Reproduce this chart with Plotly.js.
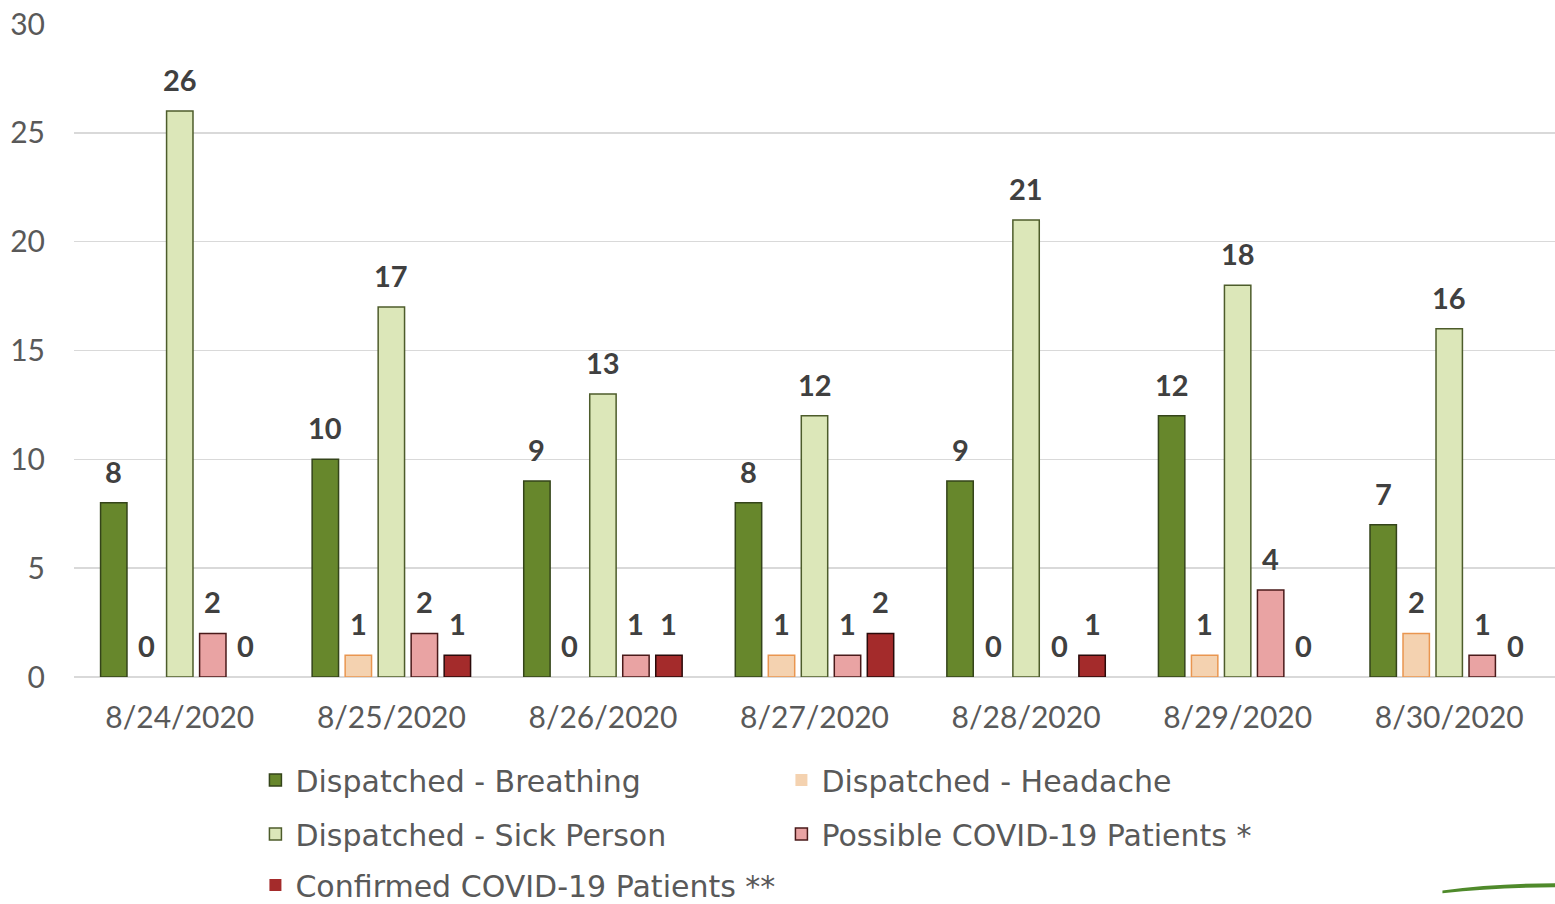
<!DOCTYPE html>
<html>
<head>
<meta charset="utf-8">
<script src="https://cdn.plot.ly/plotly-3.0.1.min.js"></script>
<style>html,body{margin:0;padding:0;background:#fff;}#chart{width:1555px;height:904px;}</style>
</head>
<body>
<div id="chart"></div>
<script>
const dates = ["8/24/2020","8/25/2020","8/26/2020","8/27/2020","8/28/2020","8/29/2020","8/30/2020"];
const breathing = [8,10,9,8,9,12,7];
const headache = [0,1,0,1,0,1,2];
const sickPerson = [26,17,13,12,21,18,16];
const possibleCovid = [2,2,1,1,0,4,1];
const confirmedCovid = [0,1,1,2,1,0,0];
const seriesNames = ["Dispatched - Breathing","Dispatched - Headache","Dispatched - Sick Person","Possible COVID-19 Patients *","Confirmed COVID-19 Patients **"];

const fills = ["#67872c","#f4d2b0","#dce7b9","#e9a3a3","#a42b2b"];
const lines = ["#34441a","#e99650","#4d5c2b","#4a1a1a","#2a0a0a"];
const legendIds = ["legend","legend","legend2","legend2","legend3"];
const data = [breathing, headache, sickPerson, possibleCovid, confirmedCovid];

const FONT = "Lato, 'Open Sans', sans-serif";
const LFONT = "'DejaVu Sans', sans-serif";
const W = 1555, H = 904, ML = 74, MR = 0, MT = 24, MB = 227;
const BARGAP = 0.22;
const nCat = dates.length, nSer = data.length;
const slot = (W - ML - MR) / nCat * (1 - BARGAP) / nSer;

const traces = data.map((vals,i)=>({
  type:'bar', x:dates, y:vals, name:seriesNames[i],
  legend: legendIds[i],
  marker:{color:fills[i], line:{color:lines[i], width:vals.map(v=>v===0?0:1.5)}},
  hoverinfo:'x+y+name'
}));

const annotations = [];
data.forEach((vals,i)=>{
  vals.forEach((v,j)=>{
    annotations.push({
      x:dates[j], y:v, xref:'x', yref:'y', text:String(v), showarrow:false,
      xanchor:'center', yanchor:'bottom',
      xshift:(i-(nSer-1)/2)*slot, yshift:12,
      font:{family:FONT, size:29, color:'#404040', weight:'bold'}
    });
  });
});

const py = (pix)=> (H - MB - pix) / (H - MB - MT);
const legendCommon = (y, anchor)=>({
  orientation:'h', x:0.1225, xanchor:'left', y:y, yanchor:anchor || 'middle',
  xref:'paper', yref:'paper',
  entrywidth:481, entrywidthmode:'pixels',
  font:{family:LFONT, size:30, color:'#595959'},
  bgcolor:'rgba(0,0,0,0)', itemwidth:30, traceorder:'normal'
});

const layout = {
  width:W, height:H,
  margin:{l:ML, r:MR, t:MT, b:MB, autoexpand:false},
  paper_bgcolor:'#fff', plot_bgcolor:'#fff',
  barmode:'group', bargap:BARGAP, bargroupgap:0.2,
  font:{family:FONT, color:'#595959'},
  showlegend:true,
  legend: legendCommon(py(780)),
  legend2: legendCommon(py(834)),
  legend3: legendCommon(py(885)),
  xaxis:{
    type:'category', showgrid:false, zeroline:false,
    showline:false, ticks:'outside', ticklen:14, tickcolor:'rgba(0,0,0,0)',
    tickfont:{family:FONT, size:30, color:'#595959'}
  },
  yaxis:{
    range:[0,30], dtick:5, showgrid:true, gridcolor:'#d9d9d9', gridwidth:1.5,
    zeroline:true, zerolinecolor:'#d9d9d9', zerolinewidth:2,
    ticks:'outside', ticklen:22, tickcolor:'rgba(0,0,0,0)',
    tickfont:{family:FONT, size:30, color:'#595959'}
  },
  annotations: annotations,
  shapes:[{
    type:'path', xref:'paper', yref:'paper',
    path:'M 0.924 -0.331 Q 0.96 -0.322 1.0 -0.322 L 1.0 -0.316 Q 0.96 -0.316 0.924 -0.327 Z',
    fillcolor:'#4f8a2b', line:{width:0}
  }]
};

Plotly.newPlot('chart', traces, layout, {displayModeBar:false, staticPlot:true});
</script>
</body>
</html>
